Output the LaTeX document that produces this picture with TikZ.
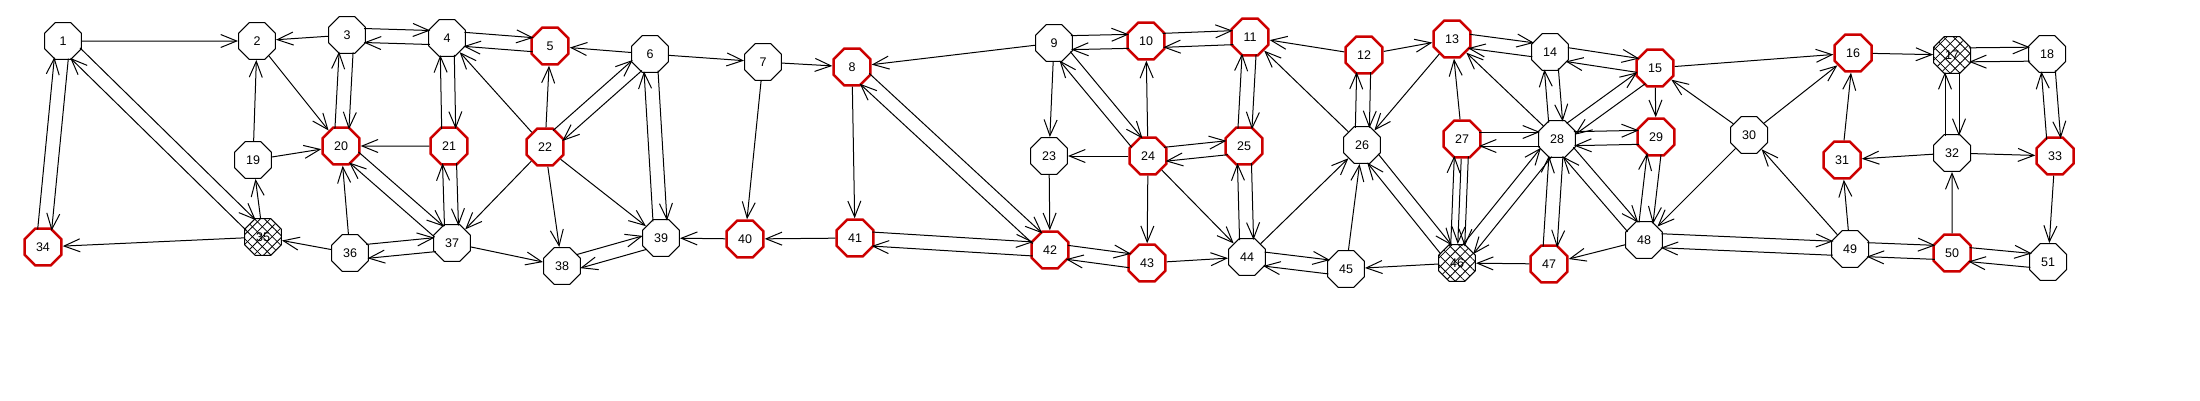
\documentclass[tikz,border=0pt]{standalone}
\usepackage{fontspec}
\setmainfont{Liberation Sans}
\usepackage{tikz}
\usetikzlibrary{arrows.meta}
\usetikzlibrary{shapes}
\usetikzlibrary{calc}
\usetikzlibrary{patterns.meta}
\tikzstyle{line} = [draw, line width=1pt, -{Straight Barb[length=16pt,width=13pt]}]

\begin{document}
\begin{tikzpicture}[x=1pt, y=-1pt]

				\tikzstyle{stacja} = [regular polygon, regular polygon sides=8, draw, line width=1pt, fill=white, minimum size=40pt, inner sep=0pt, font=\fontsize{12.5}{14}\selectfont]
				\tikzstyle{czerwona} = [stacja, draw=red!80!black, line width=2.5pt]
				\tikzstyle{kratka} = [stacja, preaction={fill=white}, preaction={pattern={Lines[angle=45,distance=7pt,line width=0.8pt]}}, pattern={Lines[angle=-45,distance=7pt,line width=0.8pt]}]
				\tikzstyle{para} = [to path={($(\tikztostart)!17pt!(\tikztotarget)!7pt!90:(\tikztotarget)$) -- ($(\tikztotarget)!17pt!(\tikztostart)!7pt!-90:(\tikztostart)$)}]

				\useasboundingbox (0,0) rectangle (2200,400);

				% Place nodes
				\node [stacja]   (n1)  at (63,41)    {1};
				\node [stacja]   (n2)  at (257,41)   {2};
				\node [stacja]   (n3)  at (347,35)   {3};
				\node [stacja]   (n4)  at (447,38)   {4};
				\node [czerwona] (n5)  at (550,46)   {5};
				\node [stacja]   (n6)  at (650,54)   {6};
				\node [stacja]   (n7)  at (763,62)   {7};
				\node [czerwona] (n8)  at (852,67)   {8};
				\node [stacja]   (n9)  at (1054,43)  {9};
				\node [czerwona] (n10) at (1146,41)  {10};
				\node [czerwona] (n11) at (1250,37)  {11};
				\node [czerwona] (n12) at (1364,55)  {12};
				\node [czerwona] (n13) at (1452,39)  {13};
				\node [stacja]   (n14) at (1550,52)  {14};
				\node [czerwona] (n15) at (1655,68)  {15};
				\node [czerwona] (n16) at (1853,53)  {16};
				\node [kratka]   (n17) at (1952,55)  {17};
				\node [stacja]   (n18) at (2047,54)  {18};
				\node [stacja]   (n19) at (253,160)  {19};
				\node [czerwona] (n20) at (341,146)  {20};
				\node [czerwona] (n21) at (449,146)  {21};
				\node [czerwona] (n22) at (545,147)  {22};
				\node [stacja]   (n23) at (1049,156) {23};
				\node [czerwona] (n24) at (1148,156) {24};
				\node [czerwona] (n25) at (1244,146) {25};
				\node [stacja]   (n26) at (1362,145) {26};
				\node [czerwona] (n27) at (1462,139) {27};
				\node [stacja]   (n28) at (1557,139) {28};
				\node [czerwona] (n29) at (1656,137) {29};
				\node [stacja]   (n30) at (1749,135) {30};
				\node [czerwona] (n31) at (1842,160) {31};
				\node [stacja]   (n32) at (1952,153) {32};
				\node [czerwona] (n33) at (2055,156) {33};
				\node [czerwona] (n34) at (43,247)   {34};
				\node [kratka]   (n35) at (263,237)  {35};
				\node [stacja]   (n36) at (350,253)  {36};
				\node [stacja]   (n37) at (452,243)  {37};
				\node [stacja]   (n38) at (562,266)  {38};
				\node [stacja]   (n39) at (661,238)  {39};
				\node [czerwona] (n40) at (745,239)  {40};
				\node [czerwona] (n41) at (855,238)  {41};
				\node [czerwona] (n42) at (1050,250) {42};
				\node [czerwona] (n43) at (1147,263) {43};
				\node [stacja]   (n44) at (1247,257) {44};
				\node [stacja]   (n45) at (1346,269) {45};
				\node [kratka]   (n46) at (1457,263) {46};
				\node [czerwona] (n47) at (1549,264) {47};
				\node [stacja]   (n48) at (1644,240) {48};
				\node [stacja]   (n49) at (1850,249) {49};
				\node [czerwona] (n50) at (1952,253) {50};
				\node [stacja]   (n51) at (2048,262) {51};

				% one way
				\path [line] (n1) -- (n2);
				\path [line] (n3) -- (n2);
				\path [line] (n35) -- (n34);
				\path [line] (n35) -- (n19);
				\path [line] (n19) -- (n2);
				\path [line] (n19) -- (n20);
				\path [line] (n2) -- (n20);
				\path [line] (n36) -- (n35);
				\path [line] (n36) -- (n20);
				\path [line] (n21) -- (n20);
				\path [line] (n22) -- (n4);
				\path [line] (n22) -- (n5);
				\path [line] (n6) -- (n5);
				\path [line] (n6) -- (n7);
				\path [line] (n22) -- (n37);
				\path [line] (n22) -- (n38);
				\path [line] (n22) -- (n39);
				\path [line] (n37) -- (n38);
				\path [line] (n40) -- (n39);
				\path [line] (n7) -- (n8);
				\path [line] (n7) -- (n40);
				\path [line] (n9) -- (n8);
				\path [line] (n8) -- (n41);
				\path [line] (n41) -- (n40);
				\path [line] (n9) -- (n23);
				\path [line] (n23) -- (n42);
				\path [line] (n24) -- (n23);
				\path [line] (n24) -- (n10);
				\path [line] (n12) -- (n11);
				\path [line] (n26) -- (n11);
				\path [line] (n12) -- (n13);
				\path [line] (n13) -- (n26);
				\path [line] (n24) -- (n43);
				\path [line] (n24) -- (n44);
				\path [line] (n44) -- (n26);
				\path [line] (n45) -- (n26);
				\path [line] (n46) -- (n45);
				\path [line] (n43) -- (n44);
				\path [line] (n27) -- (n46);
				\path [line] (n28) -- (n13);
				\path [line] (n27) -- (n13);
				\path [line] (n15) -- (n29);
				\path [line] (n47) -- (n46);
				\path [line] (n48) -- (n47);
				\path [line] (n30) -- (n15);
				\path [line] (n30) -- (n48);
				\path [line] (n15) -- (n16);
				\path [line] (n30) -- (n16);
				\path [line] (n49) -- (n30);
				\path [line] (n16) -- (n17);
				\path [line] (n31) -- (n16);
				\path [line] (n32) -- (n31);
				\path [line] (n32) -- (n33);
				\path [line] (n49) -- (n31);
				\path [line] (n50) -- (n32);
				\path [line] (n33) -- (n51);

				% both ways
				\path [line, para] (n3) to (n4);   \path [line, para] (n4) to (n3);
				\path [line, para] (n1) to (n34);  \path [line, para] (n34) to (n1);
				\path [line, para] (n1) to (n35);  \path [line, para] (n35) to (n1);
				\path [line, para] (n3) to (n20);  \path [line, para] (n20) to (n3);
				\path [line, para] (n36) to (n37); \path [line, para] (n37) to (n36);
				\path [line, para] (n20) to (n37); \path [line, para] (n37) to (n20);
				\path [line, para] (n4) to (n21);  \path [line, para] (n21) to (n4);
				\path [line, para] (n4) to (n5);   \path [line, para] (n5) to (n4);
				\path [line, para] (n6) to (n22);  \path [line, para] (n22) to (n6);
				\path [line, para] (n6) to (n39);  \path [line, para] (n39) to (n6);
				\path [line, para] (n21) to (n37); \path [line, para] (n37) to (n21);
				\path [line, para] (n38) to (n39); \path [line, para] (n39) to (n38);
				\path [line, para] (n8) to (n42);  \path [line, para] (n42) to (n8);
				\path [line, para] (n41) to (n42); \path [line, para] (n42) to (n41);
				\path [line, para] (n9) to (n10);  \path [line, para] (n10) to (n9);
				\path [line, para] (n9) to (n24);  \path [line, para] (n24) to (n9);
				\path [line, para] (n42) to (n43); \path [line, para] (n43) to (n42);
				\path [line, para] (n10) to (n11); \path [line, para] (n11) to (n10);
				\path [line, para] (n11) to (n25); \path [line, para] (n25) to (n11);
				\path [line, para] (n12) to (n26); \path [line, para] (n26) to (n12);
				\path [line, para] (n24) to (n25); \path [line, para] (n25) to (n24);
				\path [line, para] (n25) to (n44); \path [line, para] (n44) to (n25);
				\path [line, para] (n26) to (n46); \path [line, para] (n46) to (n26);
				\path [line, para] (n44) to (n45); \path [line, para] (n45) to (n44);
				\path [line, para] (n13) to (n14); \path [line, para] (n14) to (n13);
				\path [line, para] (n14) to (n15); \path [line, para] (n15) to (n14);
				\path [line, para] (n14) to (n28); \path [line, para] (n28) to (n14);
				\path [line, para] (n15) to (n28); \path [line, para] (n28) to (n15);
				\path [line, para] (n27) to (n28); \path [line, para] (n28) to (n27);
				\path [line, para] (n28) to (n29); \path [line, para] (n29) to (n28);
				\path [line, para] (n27) to (n46); \path [line, para] (n46) to (n27);
				\path [line, para] (n28) to (n46); \path [line, para] (n46) to (n28);
				\path [line, para] (n28) to (n47); \path [line, para] (n47) to (n28);
				\path [line, para] (n28) to (n48); \path [line, para] (n48) to (n28);
				\path [line, para] (n29) to (n48); \path [line, para] (n48) to (n29);
				\path [line, para] (n48) to (n49); \path [line, para] (n49) to (n48);
				\path [line, para] (n17) to (n18); \path [line, para] (n18) to (n17);
				\path [line, para] (n17) to (n32); \path [line, para] (n32) to (n17);
				\path [line, para] (n18) to (n33); \path [line, para] (n33) to (n18);
				\path [line, para] (n49) to (n50); \path [line, para] (n50) to (n49);
				\path [line, para] (n50) to (n51); \path [line, para] (n51) to (n50);

\end{tikzpicture}
\end{document}
